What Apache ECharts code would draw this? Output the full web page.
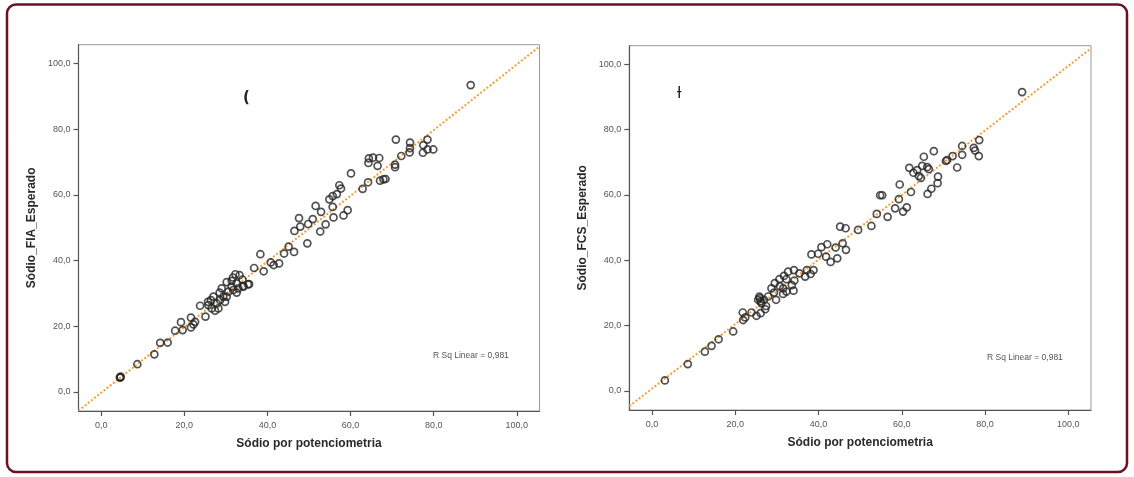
<!DOCTYPE html>
<html>
<head>
<meta charset="utf-8">
<script src="https://cdn.jsdelivr.net/npm/echarts@6/dist/echarts.min.js"></script>
<style>
html,body{margin:0;padding:0;background:#fff;}
#c{width:1134px;height:477px;}
</style>
</head>
<body>
<div id="c"></div>
<script>
// ---- data ----
var tickValues = [0, 20, 40, 60, 80, 100];

var leftX = [88.9,70.9,74.3,78.5,77.5,78.5,79.9,77.4,74.3,74.2,72.2,70.7,70.7,64.4,65.4,66.9,64.3,66.5,60.1,64.2,62.9,67.1,67.9,68.4,57.3,57.7,56.7,55.7,54.9,51.6,52.9,55.7,59.3,58.3,55.9,50.9,49.8,47.6,47.9,46.5,54.0,52.7,49.6,45.1,44.0,46.4,38.3,36.8,39.1,40.8,41.5,42.8,35.3,34.2,
  32.3,33.3,31.7,30.2,31.4,34.0,35.6,34.2,32.6,30.6,29.0,28.5,29.4,29.8,27.0,27.8,26.6,27.4,25.8,31.4,32.6,28.6,26.4,30.2,31.8,33.0,28.2,
  23.8,25.7,25.1,21.6,22.6,22.2,21.6,19.2,17.8,19.6,14.2,16.0,12.8,8.7,4.6,4.7,4.5];
var leftY = [93.4,76.8,75.9,76.8,75.1,73.8,73.8,72.8,74.2,72.9,71.8,69.2,68.4,71.1,71.3,71.2,69.7,68.8,66.5,63.8,61.8,64.3,64.7,64.8,62.9,61.9,60.2,59.6,58.6,56.6,54.8,56.3,55.3,53.7,53.1,52.6,51.1,52.9,50.3,49.0,51.0,48.8,45.2,44.2,42.1,42.6,41.9,37.7,36.7,39.4,38.6,39.1,32.7,32.2,
  35.8,35.5,34.8,33.4,33.8,34.2,32.8,32.0,30.2,30.5,31.5,30.2,29.0,27.4,29.0,26.9,25.4,24.7,26.4,32.0,33.0,27.9,27.9,29.0,31.0,31.5,25.4,
  26.2,27.4,22.9,22.6,21.3,20.5,19.6,21.2,18.6,18.8,14.9,15.0,11.4,8.4,4.3,4.6,4.4];

var rightX = [88.9,78.6,74.5,77.3,77.6,74.5,78.5,72.2,70.9,70.6,73.3,67.7,65.3,61.8,63.7,64.9,66.1,66.5,62.8,64.1,64.6,68.7,68.6,67.1,66.2,59.5,62.2,59.3,55.3,54.8,61.2,60.3,58.4,56.6,54.0,52.7,49.5,45.2,46.5,45.8,46.6,44.1,42.1,40.7,39.9,38.3,41.8,44.5,42.9,38.8,37.2,38.1,36.8,
  34.1,32.7,31.7,32.3,34.2,30.6,29.5,28.7,30.7,31.5,33.6,34.0,31.5,32.3,29.3,29.8,27.9,25.9,25.5,26.1,25.8,26.3,26.9,35.4,27.4,
  27.2,26.1,25.1,21.8,22.4,21.9,23.9,19.5,16.0,14.3,12.7,8.6,3.1];
var rightY = [91.5,76.8,75.0,74.4,73.6,72.3,71.9,71.9,70.7,70.4,68.4,73.4,71.7,68.3,67.6,68.9,68.5,67.9,66.8,65.8,65.2,65.6,63.6,61.9,60.3,63.2,60.9,58.7,59.9,59.9,56.2,54.9,55.9,53.3,54.2,50.5,49.3,50.3,49.8,45.2,43.2,43.9,44.9,44.0,42.0,41.8,41.1,40.6,39.5,37.0,37.0,35.8,35.0,
  37.0,36.5,35.2,34.2,33.8,34.2,33.0,31.4,32.1,31.4,32.4,30.7,29.7,30.4,30.1,27.9,28.9,28.4,27.9,27.4,28.9,26.8,27.9,36.0,26.0,
  25.0,23.8,23.0,24.0,22.5,21.7,24.0,18.2,15.8,13.8,12.0,8.2,3.2];

// fit lines (slope, intercept)
var leftFit = [1.0, -0.3];
var rightFit = [0.988, 0.7];
var rSqText = 'R Sq Linear = 0,981';

var xRange = [-5.45, 105.45];
var yRange = [-5.85, 105.7];

function pairs(xs, ys){ var out=[]; for(var i=0;i<xs.length;i++) out.push([xs[i], ys[i]]); return out; }
function fitLine(f){ return [[xRange[0], f[0]*xRange[0]+f[1]], [xRange[1], f[0]*xRange[1]+f[1]]]; }
function fmt(v){ return v.toFixed(1).replace('.', ','); }

var FONT = '"Liberation Sans", Arial, sans-serif';

function xAxisCfg(idx){
  return {
    type:'value', gridIndex:idx, min:xRange[0], max:xRange[1],
    name:'Sódio por potenciometria', nameLocation:'middle', nameGap:27,
    nameTextStyle:{fontFamily:FONT, fontWeight:'bold', fontSize:12, color:'#2a2a2a'},
    axisLine:{show:true, onZero:false, lineStyle:{color:'#555', width:1.2}},
    axisTick:{show:true, length:5, customValues:tickValues, lineStyle:{color:'#555', width:1.2}},
    axisLabel:{customValues:tickValues, formatter:fmt, fontFamily:FONT, fontSize:9, color:'#555', margin:10},
    splitLine:{show:false}
  };
}
function yAxisCfg(idx, name){
  return {
    type:'value', gridIndex:idx, min:yRange[0], max:yRange[1],
    name:name, nameLocation:'middle', nameGap:41,
    nameTextStyle:{fontFamily:FONT, fontWeight:'bold', fontSize:12, color:'#2a2a2a'},
    axisLine:{show:true, onZero:false, lineStyle:{color:'#555', width:1.2}},
    axisTick:{show:true, length:5, customValues:tickValues, lineStyle:{color:'#555', width:1.2}},
    axisLabel:{customValues:tickValues, formatter:fmt, fontFamily:FONT, fontSize:9, color:'#555', margin:8},
    splitLine:{show:false}
  };
}
function scatterCfg(idx, data){
  return {
    type:'scatter', xAxisIndex:idx, yAxisIndex:idx, data:data,
    symbol:'circle', symbolSize:7, z:3,
    itemStyle:{color:'rgba(0,0,0,0)', borderColor:'#262626', borderWidth:1.7},
    emphasis:{disabled:true}, silent:true
  };
}
function lineCfg(idx, data){
  return {
    type:'line', xAxisIndex:idx, yAxisIndex:idx, data:data,
    showSymbol:false, symbol:'none', z:2, clip:true,
    lineStyle:{color:'#f0a035', width:2, type:[2,2]},
    silent:true, animation:false
  };
}

var chart = echarts.init(document.getElementById('c'), null, {renderer:'canvas'});
chart.setOption({
  animation:false,
  backgroundColor:'#ffffff',
  grid:[
    {left:78.5, top:44.7, width:461, height:366.3, show:true, borderColor:'#999', borderWidth:1, backgroundColor:'#fff'},
    {left:629.3, top:45.7, width:461.7, height:364.3, show:true, borderColor:'#999', borderWidth:1, backgroundColor:'#fff'}
  ],
  xAxis:[xAxisCfg(0), xAxisCfg(1)],
  yAxis:[yAxisCfg(0,'Sódio_FIA_Esperado'), yAxisCfg(1,'Sódio_FCS_Esperado')],
  series:[
    lineCfg(0, fitLine(leftFit)),
    scatterCfg(0, pairs(leftX, leftY)),
    lineCfg(1, fitLine(rightFit)),
    scatterCfg(1, pairs(rightX, rightY))
  ],
  graphic:[
    {type:'rect', shape:{x:7, y:4.5, width:1120, height:467.5, r:9}, style:{fill:'none', stroke:'#6e1020', lineWidth:2.5}, z:100, silent:true},
    {type:'text', left:243, top:91, style:{text:'(', font:'bold 15px "DejaVu Sans"', fill:'#222'}, z:50},
    {type:'text', left:677, top:86, style:{text:'ƚ', font:'16px "DejaVu Sans"', fill:'#222'}, z:50},
    {type:'text', left:433, top:351, style:{text:rSqText, font:'8.5px "Liberation Sans"', fill:'#555'}, z:50},
    {type:'text', left:987, top:353, style:{text:rSqText, font:'8.5px "Liberation Sans"', fill:'#555'}, z:50}
  ]
});
</script>
</body>
</html>
